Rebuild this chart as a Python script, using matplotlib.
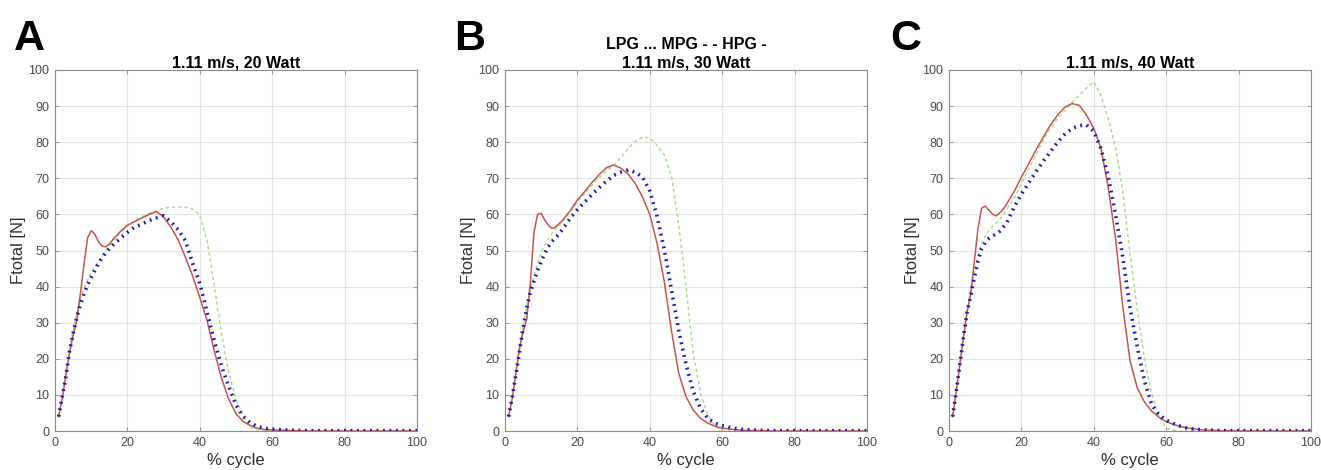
import numpy as np
import matplotlib
matplotlib.use("Agg")
import matplotlib.pyplot as plt

plt.rcParams['font.family'] = ['Liberation Sans', 'DejaVu Sans']

# % cycle sample positions (shared by every curve)
cycle = [1, 2, 3, 4, 5, 6, 7, 8, 9, 10, 11, 12, 13, 14, 15, 16, 18, 20, 22, 24, 26, 28, 30,
         32, 34, 36, 38, 40, 42, 44, 46, 48, 50, 52, 54, 56, 58, 60, 63, 66, 70, 75, 80, 90, 100]

# panel A, 20 Watt
lpg_20 = [4, 9.5, 15, 22, 27, 31.5, 35, 38, 40.5, 42.5, 44.5, 46.4, 48, 49.3, 50.5, 51.5, 53.3, 55,
          56.5, 57.3, 58.3, 59, 59.6, 58, 55.8, 52.8, 46.5, 40.9, 33, 25, 18, 12.3, 7.2, 4, 2.2,
          1.2, 0.7, 0.5, 0.3, 0.2, 0.1, 0.1, 0.1, 0.1, 0.1]
mpg_20 = [4, 10, 16, 23, 28, 32.5, 36.5, 39.5, 42, 44, 45.5, 47, 48.5, 50, 51.2, 52.5, 54.8, 56.8,
          58.2, 59.3, 60.3, 61, 61.7, 62, 62, 62, 61.5, 59.8, 52.8, 40.3, 27, 16.2, 9, 4, 1, 0,
          0, 0, 0, 0, 0, 0, 0, 0, 0]
hpg_20 = [4, 9, 15.5, 21.5, 26.5, 30.5, 38, 46, 53.5, 55.5, 54.5, 52.5, 51.2, 51, 51.8, 53, 55.2,
          57, 58, 59, 60, 60.8, 59.3, 56.5, 53, 48.2, 43, 37, 30.6, 22.2, 14.6, 8.8, 4.8, 2.6,
          1.5, 0.7, 0.4, 0.3, 0.2, 0.1, 0, 0, 0, 0, 0]

# panel B, 30 Watt
lpg_30 = [4, 9.5, 15.5, 22, 28.5, 34, 38.5, 41.5, 44.5, 47, 49.2, 51.1, 52.5, 53.6, 54.7, 56, 58.9,
          61.3, 63.4, 65.5, 67.4, 69.2, 70.8, 71.7, 72.3, 71.7, 70.3, 66.5, 59.5, 50.3, 39, 27.8,
          18.5, 11, 6.3, 3.5, 2.1, 1.5, 0.8, 0.4, 0.2, 0.1, 0.1, 0.1, 0.1]
mpg_30 = [4, 9.5, 15.5, 22, 29, 34.5, 39, 43, 46.5, 49.5, 51.5, 53.3, 54.8, 56, 57, 58, 60.5, 63.5,
          65.8, 68, 70.2, 72, 73.5, 75.8, 78.2, 80.3, 81.4, 81.2, 79.2, 76.5, 70.5, 57, 40, 21.5,
          10.5, 4.5, 1.4, 0, 0, 0, 0, 0, 0, 0, 0]
hpg_30 = [4, 9, 16, 23, 27.5, 31, 41, 55, 60, 60.3, 58.4, 57, 56.1, 56.5, 57.5, 58.5, 61, 64, 66.3,
          68.8, 71, 72.9, 73.7, 72.8, 71.2, 68.5, 64.8, 60, 52, 41.4, 27.7, 16, 9.5, 5.8, 3.5, 2.2,
          1.3, 0.8, 0.4, 0.2, 0.1, 0, 0, 0, 0]

# panel C, 40 Watt
lpg_40 = [4, 11, 18.5, 26, 33, 37.5, 42.5, 47, 50.5, 52.2, 53.3, 54, 54.6, 55.3, 56.5, 57.8, 62,
          65.6, 68.7, 71.8, 74.7, 77.3, 80, 82.2, 83.8, 84.6, 84.8, 83, 78.2, 70.5, 60, 48.2, 34.2,
          23.4, 13.8, 7.3, 4.5, 3, 1.6, 0.7, 0.3, 0.1, 0.1, 0.1, 0.1]
mpg_40 = [4, 11, 18.5, 26, 33, 38.5, 44, 48.5, 52, 54, 55.5, 56.6, 57.6, 58.6, 60, 61.5, 64.5, 68.5,
          72.5, 76.5, 80.5, 83.8, 86.5, 88.8, 91, 93, 95, 96.8, 92.8, 86.5, 78.5, 66.5, 49.2, 33.5,
          20, 10.3, 4, 0.8, 0, 0, 0, 0, 0, 0, 0]
hpg_40 = [4, 11, 18.5, 26, 33, 38, 47, 56, 61.7, 62.3, 61.2, 60.1, 59.6, 60.4, 61.4, 63, 66.3, 70.3,
          74, 77.8, 81.3, 84.7, 87.5, 89.7, 90.7, 90.2, 87.5, 83.8, 78.2, 67.3, 53.4, 34.5, 19.5,
          12, 8, 5.5, 3.8, 2.6, 1.5, 0.8, 0.3, 0.1, 0, 0, 0]

panels = [
    ("A", "1.11 m/s, 20 Watt", lpg_20, mpg_20, hpg_20),
    ("B", "LPG ... MPG - - HPG -\n1.11 m/s, 30 Watt", lpg_30, mpg_30, hpg_30),
    ("C", "1.11 m/s, 40 Watt", lpg_40, mpg_40, hpg_40),
]

W, H = 1321, 470
fig = plt.figure(figsize=(W / 100, H / 100), dpi=100)

lefts = [55, 505, 949]
letter_x = [14, 454, 890]
ax_w, top, bottom = 362, 70, 431

for i, (letter, title, lpg, mpg, hpg) in enumerate(panels):
    ax = fig.add_axes([lefts[i] / W, 1 - bottom / H, ax_w / W, (bottom - top) / H])
    ax.plot(cycle, mpg, color="#a3de86", lw=1.0, ls=(0, (2.5, 2)))
    ax.plot(cycle, hpg, color="#c8544f", lw=1.1)
    ax.plot(cycle, lpg, color="#1a1ab0", lw=2.6, ls=(0, (0.5, 1.3)))
    ax.set_xlim(0, 100)
    ax.set_ylim(0, 100)
    ax.set_xticks(range(0, 101, 20))
    ax.set_yticks(range(0, 101, 10))
    ax.grid(True, color="#e3e3e3", lw=0.8)
    ax.set_axisbelow(True)
    for s in ax.spines.values():
        s.set_color("#8a8a8a")
        s.set_linewidth(0.8)
    ax.tick_params(direction="in", length=3, width=0.6, colors="#8a8a8a",
                   labelcolor="#4a4a4a", labelsize=9, top=True, right=True, pad=4)
    ax.set_title(title, fontsize=11.5, fontweight="bold", pad=2, linespacing=1.25)
    ax.set_ylabel("Ftotal [N]", fontsize=12, color="#303030", labelpad=2)
    ax.set_xlabel("% cycle", fontsize=12, color="#303030", labelpad=3)
    fig.text(letter_x[i] / W, 1 - 50 / H, letter, fontsize=31, fontweight="bold",
             ha="left", va="baseline")

fig.savefig("out.png", dpi=100)
